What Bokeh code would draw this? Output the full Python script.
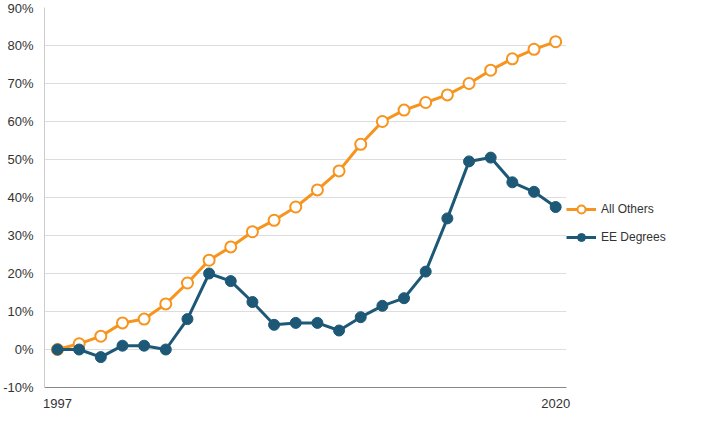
from bokeh.plotting import figure
from bokeh.models import Legend, FixedTicker
from bokeh.embed import file_html
from bokeh.resources import INLINE

years = list(range(1997, 2021))
all_others = [0, 1.5, 3.5, 7, 8, 12, 17.5, 23.5, 27, 31, 34, 37.5, 42, 47, 54, 60, 63, 65, 67, 70, 73.5, 76.5, 79, 81]
ee_degrees = [0, 0, -2, 1, 1, 0, 8, 20, 18, 12.5, 6.5, 7, 7, 5, 8.5, 11.5, 13.5, 20.5, 34.5, 49.5, 50.5, 44, 41.5, 37.5]
y_ticks = [-10, 0, 10, 20, 30, 40, 50, 60, 70, 80, 90]

orange = "#F7941D"
teal = "#1D5977"
font = "Liberation Sans"

p = figure(frame_width=522, frame_height=380, output_backend="svg", toolbar_location=None,
           x_range=(1996.4, 2020.5), y_range=(-10, 90))
p.min_border_left = 10
p.min_border_top = 7
p.min_border_right = 10

r1 = p.line(years, all_others, line_color=orange, line_width=3)
c1 = p.scatter(years, all_others, size=11, fill_color="white", line_color=orange, line_width=2)
r2 = p.line(years, ee_degrees, line_color=teal, line_width=3)
c2 = p.scatter(years, ee_degrees, size=11, fill_color=teal, line_color=teal)

legend = Legend(items=[("All Others", [r1, c1]), ("EE Degrees", [r2, c2])],
                location=(0, 140), border_line_color=None,
                label_text_font=font, label_text_font_size="12px", label_text_color="#333333",
                glyph_width=30, spacing=8)
p.add_layout(legend, "right")

p.xaxis.ticker = FixedTicker(ticks=[1997, 2020])
p.yaxis.ticker = FixedTicker(ticks=y_ticks)
p.yaxis.major_label_overrides = {t: f"{t}%" for t in y_ticks}
for ax in (p.xaxis, p.yaxis):
    ax.major_label_text_font = font
    ax.major_label_text_font_size = "13px"
    ax.major_label_text_color = "#333333"
    ax.axis_line_color = "#cccccc"
    ax.major_tick_line_color = None
    ax.minor_tick_line_color = None
p.xaxis.axis_line_color = "#888888"
p.xgrid.grid_line_color = None
p.ygrid.grid_line_color = "#dddddd"
p.ygrid.ticker = FixedTicker(ticks=y_ticks)
p.outline_line_color = None

open("out.html", "w").write(file_html(p, INLINE))
